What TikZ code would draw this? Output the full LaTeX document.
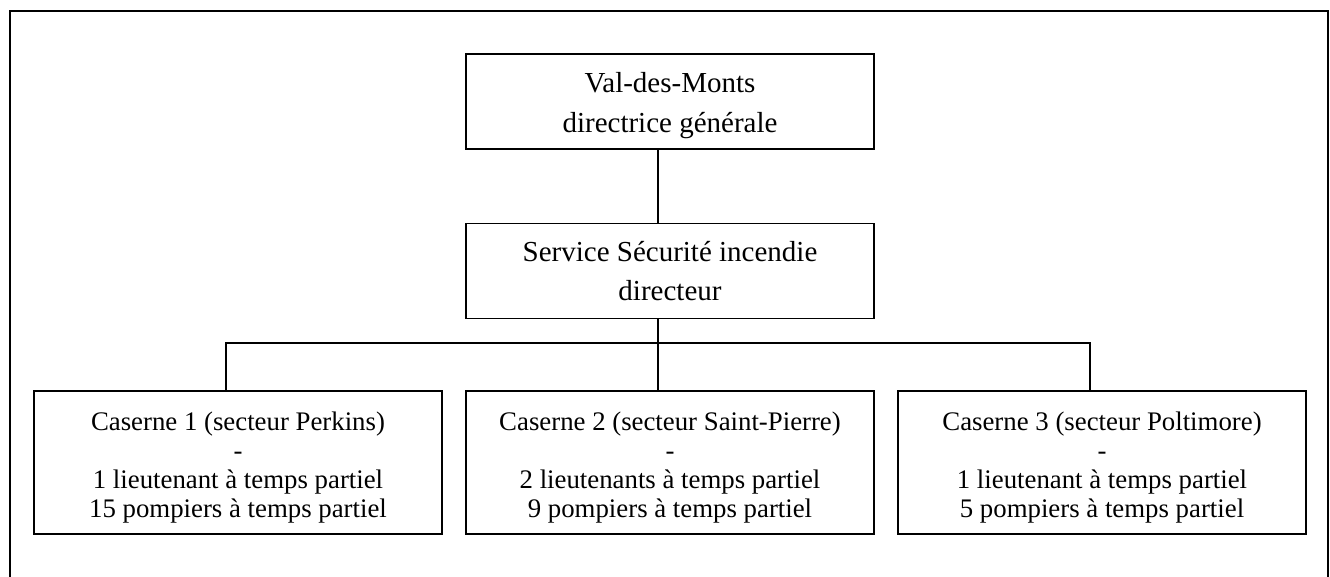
\documentclass[tikz,border=0pt]{standalone}
\usepackage{fontspec}
\setmainfont{Liberation Serif}
\tikzset{
  box/.style={draw, line width=1.9pt, rectangle, inner sep=0pt, minimum width=408pt},
  upper/.style={box, minimum height=95pt},
  lower/.style={box, minimum height=143pt},
  uppertext/.style={align=center, inner sep=0pt, font=\fontsize{29}{39.5}\selectfont},
  lowertext/.style={align=center, inner sep=0pt, font=\fontsize{26.8}{28.7}\selectfont},
  link/.style={line width=1.9pt}
}
\begin{document}
\begin{tikzpicture}[x=1pt,y=-1pt]
\useasboundingbox (0,0) rectangle (1330,576);
\clip (0,0) rectangle (1330,576);
\draw[line width=2pt] (10,590) -- (10,11) -- (1328,11) -- (1328,590);
\node[upper] (top) at (670,101.5) {};
\node[uppertext] (toptext) at ([yshift=-4pt]top.center) {Val-des-Monts\\directrice générale};
\node[upper] (mid) at (670,271) {};
\node[uppertext] (midtext) at (mid.center) {Service Sécurité incendie\\directeur};
\node[lower] (c1) at (238,462.5) {};
\node[lowertext] (c1text) at ([yshift=-5pt]c1.center) {Caserne 1 (secteur Perkins)\\-\\1 lieutenant à temps partiel\\15 pompiers à temps partiel};
\node[lower] (c2) at (670,462.5) {};
\node[lowertext] (c2text) at ([yshift=-5pt]c2.center) {Caserne 2 (secteur Saint-Pierre)\\-\\2 lieutenants à temps partiel\\9 pompiers à temps partiel};
\node[lower] (c3) at (1102,462.5) {};
\node[lowertext] (c3text) at ([yshift=-5pt]c3.center) {Caserne 3 (secteur Poltimore)\\-\\1 lieutenant à temps partiel\\5 pompiers à temps partiel};
\coordinate (bus) at (658,343);
\draw[link] ([xshift=-12pt]top.south) -- ([xshift=-12pt]mid.north);
\draw[link] ([xshift=-12pt]mid.south) -- ([xshift=-12pt]c2.north);
\draw[link] ([xshift=-12pt]c1.north) |- (bus) -| ([xshift=-12pt]c3.north);
\end{tikzpicture}
\end{document}
